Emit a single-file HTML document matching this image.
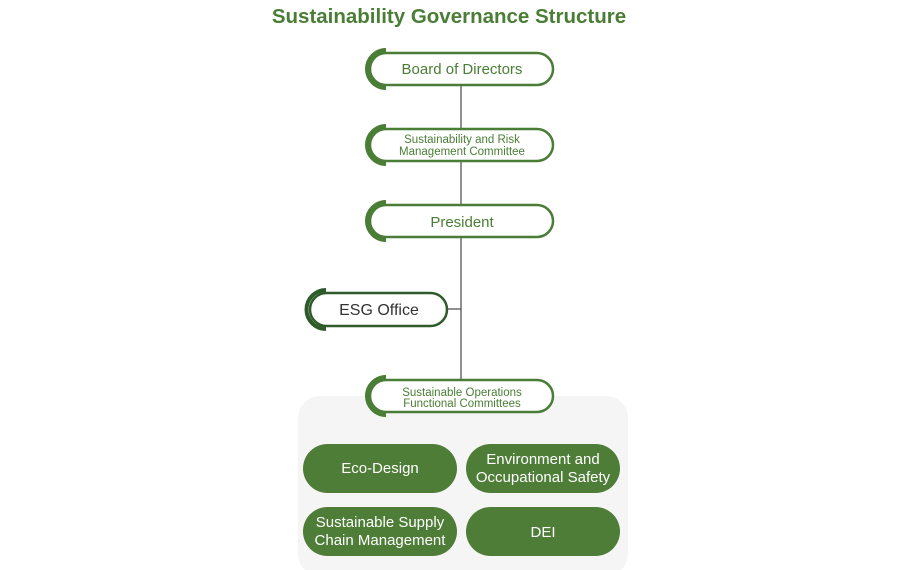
<!DOCTYPE html>
<html><head><meta charset="utf-8"><style>
html,body{margin:0;padding:0;background:#fff;}
svg{display:block;font-family:"Liberation Sans",sans-serif;}
</style></head><body>
<svg width="900" height="570" viewBox="0 0 900 570" xmlns="http://www.w3.org/2000/svg">
<text x="449" y="23" text-anchor="middle" font-size="20.5" font-weight="bold" fill="#4a7d35">Sustainability Governance Structure</text>
<rect x="298" y="396" width="330" height="180" rx="22" fill="#f5f5f5"/>
<line x1="461" y1="85" x2="461" y2="380" stroke="#555" stroke-width="1.3"/>
<line x1="447" y1="309" x2="461" y2="309" stroke="#555" stroke-width="1.3"/>
<g fill="#fff" stroke="#4a7d35" stroke-width="2.5">
<rect x="370" y="53" width="183" height="32" rx="16"/>
<rect x="370" y="129" width="183" height="32" rx="16"/>
<rect x="370" y="205" width="183" height="32" rx="16"/>
<rect x="370" y="380" width="183" height="32" rx="16"/>
<rect x="310" y="293" width="137" height="33" rx="16.5" stroke="#2f5a2a"/>
</g>
<g fill="none" stroke="#4a7d35" stroke-width="4">
<path d="M386 50 A19 19 0 0 0 386 88"/>
<path d="M386 126 A19 19 0 0 0 386 164"/>
<path d="M386 202 A19 19 0 0 0 386 240"/>
<path d="M386 377 A19 19 0 0 0 386 415"/>
<path d="M326 290 A19.5 19.5 0 0 0 326 329" stroke="#2f5a2a"/>
</g>
<g text-anchor="middle" fill="#4a7d35">
<text x="462" y="74" font-size="15">Board of Directors</text>
<text x="462" y="143" font-size="11.5">Sustainability and Risk</text>
<text x="462" y="155" font-size="11.5">Management Committee</text>
<text x="462" y="227" font-size="15">President</text>
<text x="462" y="396" font-size="11.5">Sustainable Operations</text>
<text x="462" y="407" font-size="11.5">Functional Committees</text>
<text x="379" y="315" font-size="16" fill="#333">ESG Office</text>
</g>
<g fill="#4e7d37">
<rect x="303" y="444" width="154" height="49" rx="24.5"/>
<rect x="466" y="444" width="154" height="49" rx="24.5"/>
<rect x="303" y="507" width="154" height="49" rx="24.5"/>
<rect x="466" y="507" width="154" height="49" rx="24.5"/>
</g>
<g text-anchor="middle" fill="#fff" font-size="15">
<text x="380" y="473">Eco-Design</text>
<text x="543" y="464">Environment and</text>
<text x="543" y="482">Occupational Safety</text>
<text x="380" y="527">Sustainable Supply</text>
<text x="380" y="545">Chain Management</text>
<text x="543" y="537">DEI</text>
</g>
</svg>
</body></html>
